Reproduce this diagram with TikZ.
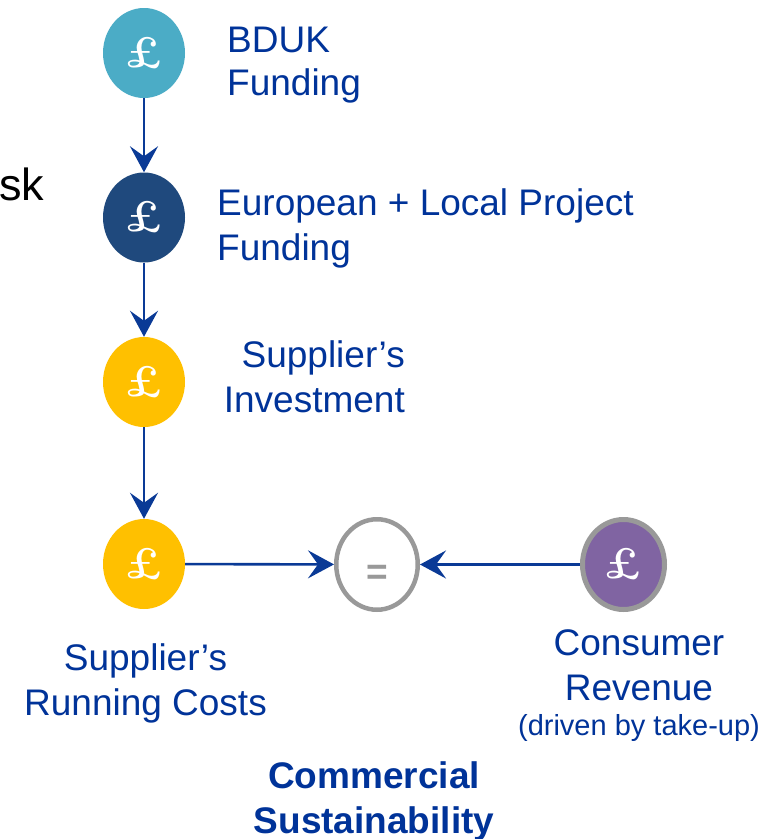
\documentclass[tikz,border=0pt]{standalone}
\usepackage{fontspec}
\newfontfamily\arial{Liberation Sans}
\usetikzlibrary{shapes.geometric,arrows.meta}
\definecolor{txtblue}{HTML}{003399}
\definecolor{arrblue}{HTML}{0A3A96}
\definecolor{cteal}{HTML}{4BACC6}
\definecolor{cnavy}{HTML}{1F497D}
\definecolor{cyellow}{HTML}{FFC000}
\definecolor{cpurple}{HTML}{8064A2}
\definecolor{cgray}{HTML}{999999}
\begin{document}
\begin{tikzpicture}[x=1pt,y=-1pt,
  coin/.style={ellipse, minimum width=82pt, minimum height=90pt, inner sep=0pt,
    text=white, font=\rmfamily\bfseries\fontsize{44}{44}\selectfont},
  lbl/.style={text=txtblue, inner sep=0pt, font=\arial\fontsize{37}{45}\selectfont},
  arr/.style={draw=arrblue, line width=2.6pt,
    -{Stealth[length=26pt,width=28pt,inset=10pt]}}]
\useasboundingbox[fill=white] (0,0) rectangle (769,839);

% coins
\node[coin, fill=cteal]   (c1) at (144,53)  {£};
\node[coin, fill=cnavy]   (c2) at (144,217.5) {£};
\node[coin, fill=cyellow] (c3) at (144,382) {£};
\node[coin, fill=cyellow] (c4) at (144,564) {£};
\node[ellipse, draw=cgray, line width=4.5pt, fill=white, minimum width=81.5pt,
  minimum height=90.5pt, inner sep=0pt, text=cgray, text height=39pt, text depth=0pt,
  font=\arial\bfseries\fontsize{37}{37}\selectfont] (eq) at (377,564.5) {=};
\node[coin, fill=cpurple, draw=cgray, line width=5pt, minimum width=82pt,
  minimum height=90pt] (c5) at (623.5,564.5) {£};

% connectors
\draw[arr] (c1) -- (c2);
\draw[arr] (c2) -- (c3);
\draw[arr] (c3) -- (c4);
\draw[arr] (c4) -- (eq);
\draw[arr] (c5) -- (eq);

% labels
\node[text=black, inner sep=0pt, anchor=base west, font=\arial\fontsize{45}{45}\selectfont]
  (risk) at (-1,200) {sk};
\node[lbl, anchor=base west, align=left, font=\arial\fontsize{37}{43}\selectfont]
  (l1) at (227,95) {BDUK\\Funding};
\node[lbl, anchor=base west, align=left] (l2) at (217,260) {European + Local Project\\Funding};
\node[lbl, anchor=base east, align=right] (l3) at (405,412) {Supplier’s\\Investment};
\node[lbl, anchor=base, align=center] (l4) at (145.5,715) {Supplier’s\\Running Costs};
\node[lbl, anchor=base, align=center] (l5) at (639,735)
  {Consumer\\Revenue\\[-10pt]{\fontsize{29}{35}\selectfont (driven by take-up)}};
\node[lbl, anchor=base, align=center, font=\arial\bfseries\fontsize{37}{45}\selectfont]
  (l6) at (374,833) {Commercial\\Sustainability};
\end{tikzpicture}
\end{document}
